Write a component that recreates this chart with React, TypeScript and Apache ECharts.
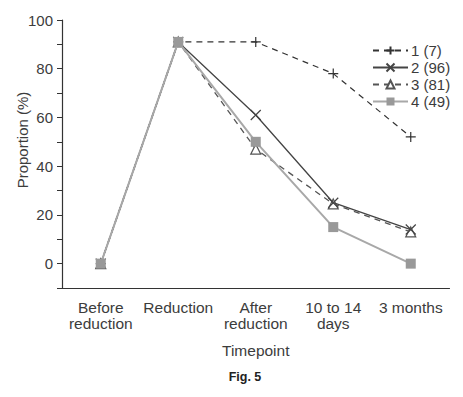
import React, { useEffect, useRef } from "react";
import * as echarts from "echarts";

const categories = ["Before\nreduction", "Reduction", "After\nreduction", "10 to 14\ndays", "3 months"];
const seriesNames = ["1 (7)", "2 (96)", "3 (81)", "4 (49)"];
const group1 = [0, 91, 91, 78, 52];
const group2 = [0, 91, 61, 25, 14];
const group3 = [0, 91, 47, 24.5, 13];
const group4 = [0, 91, 50, 15, 0];

const FONT = "'Liberation Sans', Arial, sans-serif";
const TXT = "#3c3c3c";

export default function App() {
  const ref = useRef<HTMLDivElement>(null);
  useEffect(() => {
    const chart = echarts.init(ref.current!, null, { renderer: "svg" });
    const plus = "path://M5,0 L5,10 M0,5 L10,5";
    const cross = "path://M0,0 L10,10 M10,0 L0,10";
    chart.setOption({
      animation: false,
      textStyle: { fontFamily: FONT },
      grid: { left: 62, right: 13.5, top: 20, bottom: 109, containLabel: false, outerBoundsMode: "none" },
      legend: {
        orient: "vertical",
        left: 367,
        top: 38,
        itemWidth: 35,
        itemHeight: 10,
        itemGap: 2,
        textStyle: { fontSize: 15, lineHeight: 15, color: TXT, fontFamily: FONT, padding: [0, 0, 0, -2] },
        data: seriesNames,
      },
      xAxis: {
        type: "category",
        data: categories,
        name: "Timepoint",
        nameLocation: "middle",
        nameGap: 54,
        nameTextStyle: { fontSize: 15.5, color: TXT, fontFamily: FONT },
        axisLine: { onZero: false, lineStyle: { color: "#333", width: 1.2 } },
        axisTick: { alignWithLabel: true, length: 6, lineStyle: { color: "#333" } },
        axisLabel: { interval: 0, fontSize: 15.5, color: TXT, margin: 11, lineHeight: 16, fontFamily: FONT },
      },
      yAxis: {
        type: "value",
        min: -10,
        max: 100,
        interval: 10,
        splitLine: { show: false },
        axisLine: { show: true, lineStyle: { color: "#333", width: 1.2 } },
        axisTick: { show: true, length: 5, lineStyle: { color: "#333" } },
        axisLabel: {
          fontSize: 15,
          color: TXT,
          margin: 9,
          fontFamily: FONT,
          formatter: (v: number) => (v >= 0 && v % 20 === 0 ? String(v) : ""),
        },
      },
      series: [
        {
          name: seriesNames[0],
          type: "line",
          data: group1,
          symbol: plus,
          symbolSize: 10,
          z: 3,
          lineStyle: { color: "#333", width: 1.2, type: [6, 5] },
          itemStyle: { color: "none", borderColor: "#333", borderWidth: 1.2 },
        },
        {
          name: seriesNames[1],
          type: "line",
          data: group2,
          symbol: cross,
          symbolSize: 10,
          z: 4,
          lineStyle: { color: "#444", width: 1.3 },
          itemStyle: { color: "none", borderColor: "#444", borderWidth: 1.2 },
        },
        {
          name: seriesNames[2],
          type: "line",
          data: group3,
          symbol: "triangle",
          symbolSize: 10,
          z: 3,
          lineStyle: { color: "#555", width: 1.3, type: [6, 5] },
          itemStyle: { color: "#fff", borderColor: "#555", borderWidth: 1.2 },
        },
        {
          name: seriesNames[3],
          type: "line",
          data: group4,
          symbol: "rect",
          symbolSize: 10,
          z: 5,
          lineStyle: { color: "#a8a8a8", width: 2 },
          itemStyle: { color: "#999", borderWidth: 0 },
        },
      ],
      graphic: [
        {
          type: "text",
          x: 22,
          y: 140,
          rotation: Math.PI / 2,
          style: {
            text: "Proportion (%)",
            fontSize: 15,
            fill: TXT,
            fontFamily: FONT,
            align: "center",
            verticalAlign: "middle",
          },
        },
        {
          type: "text",
          x: 245,
          y: 377,
          style: {
            text: "Fig. 5",
            fontSize: 12.5,
            fill: "#222",
            fontFamily: FONT,
            fontWeight: "bold",
            align: "center",
            verticalAlign: "middle",
          },
        },
      ],
    });
    return () => chart.dispose();
  }, []);
  return (
    <div
      ref={ref}
      style={{ position: "fixed", left: 0, top: 0, width: 463, height: 397, background: "#fff" }}
    />
  );
}
